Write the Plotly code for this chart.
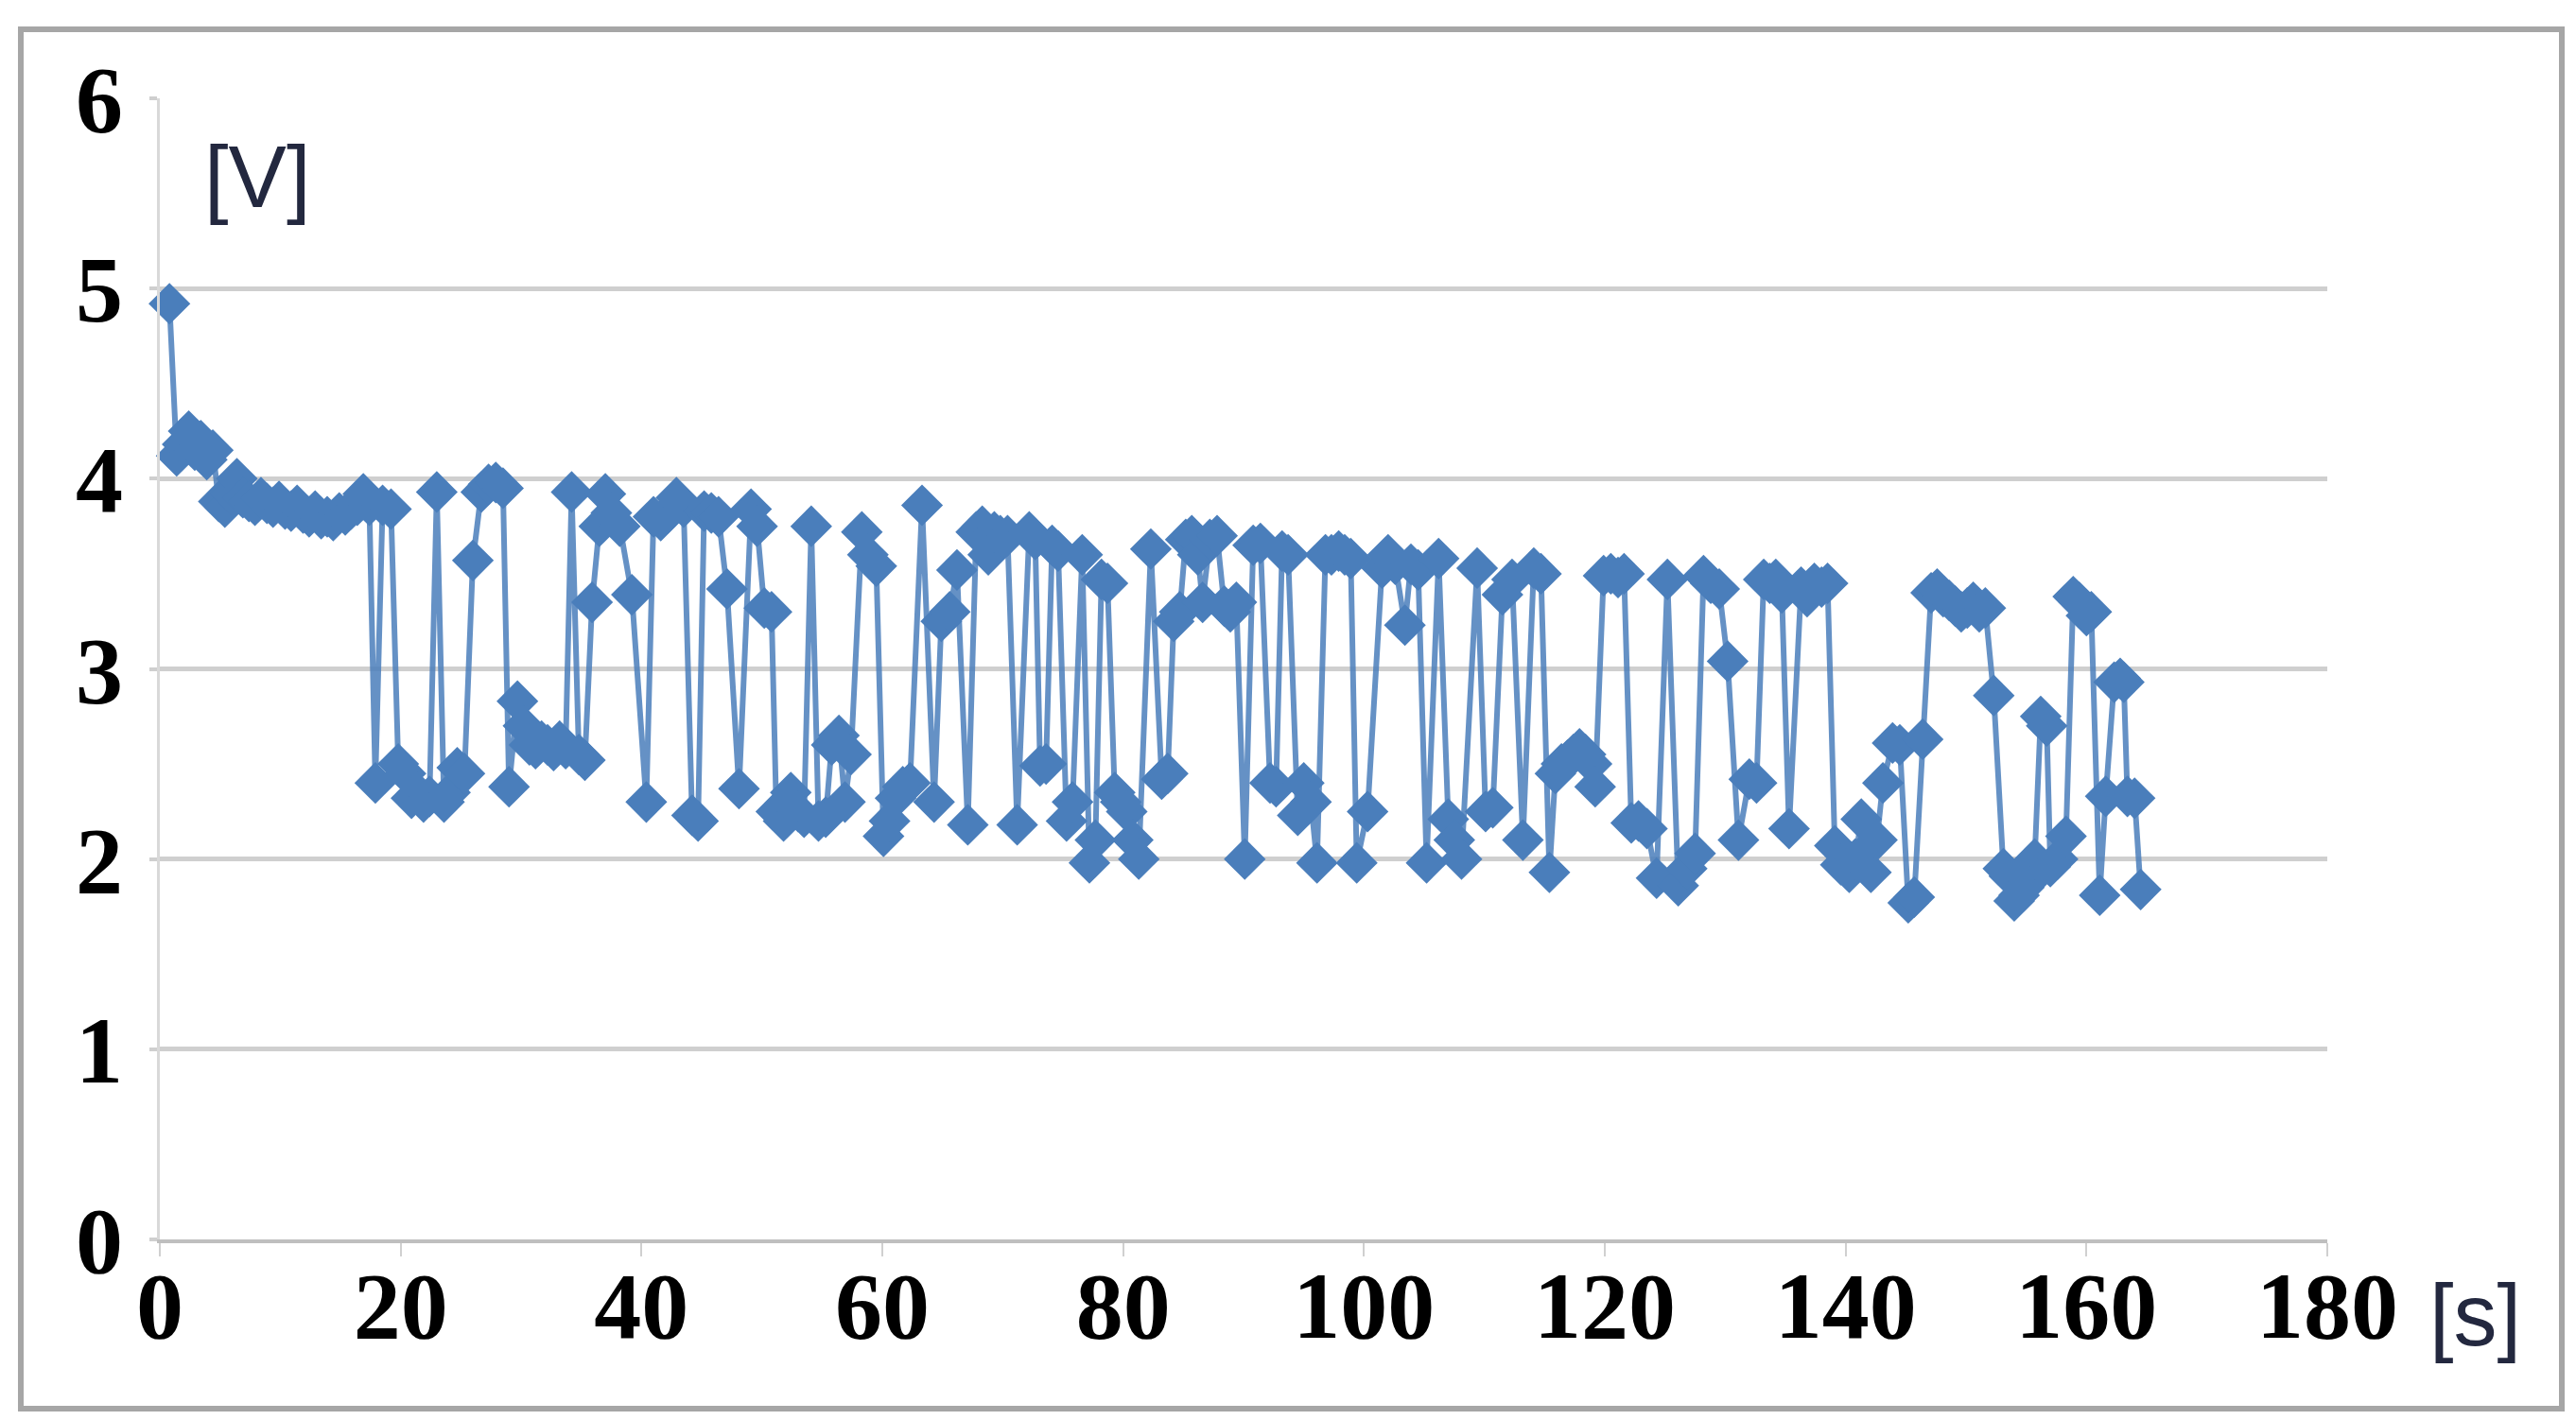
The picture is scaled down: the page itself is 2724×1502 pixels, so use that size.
import plotly.graph_objects as go

# time [s]
time_s = [
    0.8, 1.4, 1.9, 2.4, 2.9, 3.4, 3.9, 4.4, 4.9, 5.4, 5.9, 6.4, 6.9, 7.4, 7.9, 8.4, 8.9, 9.4, 9.9,
    10.4, 10.9, 11.4, 11.9, 12.4, 12.9, 13.4, 13.9, 14.4, 14.9, 15.4, 15.9, 16.4, 16.9, 17.4,
    17.9, 18.5, 19.2, 19.8, 20.4, 20.9, 21.4, 21.9, 22.4, 23.0, 23.6, 24.1, 24.7, 25.3, 26.0,
    26.7, 27.3, 27.9, 28.5, 29.0, 29.7, 30.2, 30.7, 31.2, 31.7, 32.2, 32.7, 33.2, 33.7, 34.2,
    34.8, 35.3, 35.9, 36.5, 37.0, 37.5, 38.2, 39.2, 40.4, 41.0, 41.6, 42.2, 42.9, 43.5, 44.2,
    44.7, 45.2, 45.8, 46.4, 47.1, 48.1, 49.1, 49.6, 50.2, 50.8, 51.2, 51.8, 52.4, 53.0, 53.5,
    54.1, 54.7, 55.3, 55.8, 56.4, 56.9, 57.4, 58.3, 58.8, 59.5, 60.1, 60.6, 61.1, 61.7, 62.3,
    63.3, 64.3, 64.9, 65.6, 66.2, 67.1, 67.8, 68.3, 68.8, 69.3, 69.8, 70.4, 71.2, 72.2, 72.7,
    73.1, 73.6, 74.1, 74.6, 75.3, 75.8, 76.6, 77.2, 77.7, 78.2, 78.7, 79.3, 79.8, 80.3, 80.8,
    81.3, 82.3, 83.2, 83.7, 84.2, 84.7, 85.2, 85.7, 86.2, 86.6, 87.2, 87.8, 88.4, 88.9, 89.4,
    90.1, 90.8, 91.4, 92.2, 92.7, 93.2, 93.7, 94.5, 95.0, 95.6, 96.1, 96.8, 97.3, 97.9, 98.4,
    98.9, 99.4, 100.3, 101.5, 102.0, 102.6, 103.4, 103.9, 104.5, 105.2, 106.2, 107.0, 107.5,
    108.1, 109.4, 110.1, 110.7, 111.5, 112.3, 113.2, 114.1, 114.7, 115.4, 115.9, 116.4, 116.9,
    117.4, 117.9, 118.4, 118.9, 119.2, 119.9, 120.5, 121.1, 121.6, 122.2, 122.8, 123.5, 124.3,
    125.2, 126.1, 126.8, 127.5, 128.2, 128.8, 129.5, 130.2, 131.1, 132.0, 132.6, 133.2, 133.7,
    134.2, 134.7, 135.3, 136.3, 136.8, 137.4, 138.0, 138.5, 139.1, 139.6, 140.3, 140.8, 141.3,
    142.1, 142.6, 143.1, 143.9, 144.5, 145.2, 145.7, 146.4, 147.1, 147.6, 148.1, 148.6, 149.1,
    149.6, 150.1, 150.6, 151.1, 151.6, 152.3, 153.1, 153.6, 154.0, 154.4, 154.8, 155.2, 155.7,
    156.2, 156.7, 157.0, 157.6, 158.3, 158.9, 159.4, 160.0, 160.4, 161.1, 161.6, 162.3, 162.8,
    163.1, 163.4, 164.0, 164.5,
]

# voltage [V]
voltage_v = [
    4.92, 4.12, 4.18, 4.25, 4.15, 4.20, 4.10, 4.15, 3.88, 3.85, 3.92, 4.00, 3.90, 3.88, 3.86, 3.90, 3.87, 3.85, 3.88,
    3.84, 3.83, 3.86, 3.82, 3.80, 3.83, 3.79, 3.80, 3.78, 3.82, 3.81, 3.84, 3.86, 3.92, 3.86,
    2.40, 3.86, 3.84, 2.50, 2.45, 2.32, 2.35, 2.30, 2.33, 3.93, 2.30, 2.35, 2.48, 2.45, 3.57,
    3.93, 3.97, 3.98, 3.95, 2.38, 2.83, 2.70, 2.60, 2.58, 2.62, 2.60, 2.57, 2.62, 2.58, 3.93,
    2.55, 2.52, 3.35, 3.75, 3.92, 3.82, 3.75, 3.39, 2.30, 3.80, 3.78, 3.82, 3.90, 3.85, 2.23,
    2.20, 3.83, 3.82, 3.80, 3.42, 2.37, 3.84, 3.75, 3.32, 3.30, 2.25, 2.20, 2.35, 2.25, 2.22,
    3.75, 2.20, 2.22, 2.60, 2.65, 2.30, 2.55, 3.72, 3.60, 3.54, 2.12, 2.20, 2.32, 2.38, 2.40,
    3.86, 2.30, 3.25, 3.30, 3.52, 2.18, 3.72, 3.75, 3.60, 3.72, 3.70, 3.70, 2.18, 3.72, 3.68,
    2.49, 2.50, 3.65, 3.62, 2.20, 2.30, 3.60, 1.98, 2.10, 3.47, 3.45, 2.35, 2.30, 2.25, 2.10,
    2.00, 3.63, 2.42, 2.45, 3.25, 3.30, 3.68, 3.70, 3.60, 3.35, 3.68, 3.70, 3.33, 3.30, 3.35,
    2.00, 3.65, 3.66, 2.40, 2.38, 3.62, 3.60, 2.23, 2.40, 2.30, 1.98, 3.60, 3.60, 3.62, 3.60,
    3.58, 1.98, 2.25, 3.53, 3.60, 3.55, 3.23, 3.55, 3.52, 1.98, 3.58, 2.21, 2.10,
    2.00, 3.53, 2.25, 2.27, 3.39, 3.47, 2.10, 3.53, 3.50, 1.93, 2.45, 2.50, 2.52,
    2.55, 2.58, 2.55, 2.50, 2.38, 3.49, 3.50, 3.48, 3.50, 2.19, 2.20, 2.16, 1.90,
    3.47, 1.86, 1.95, 2.03, 3.49, 3.45, 3.42, 3.04, 2.10, 2.42, 2.40, 3.47, 3.45,
    3.47, 3.40, 2.16, 3.43, 3.38, 3.45, 3.43, 3.45, 2.07, 1.97, 1.93, 2.00, 2.21,
    1.93, 2.10, 2.40, 2.61, 2.60, 1.77, 1.80, 2.63, 3.40, 3.42, 3.38, 3.36, 3.33,
    3.30, 3.32, 3.35, 3.30, 3.32, 2.86, 1.95, 1.91, 1.78, 1.81, 1.85, 1.88, 2.00,
    2.75, 2.70, 1.96, 2.00, 2.12, 3.38, 3.35, 3.28, 3.30, 1.81, 2.33, 2.93, 2.95,
    2.93, 2.33, 2.32, 1.84,
]

x_ticks = [0, 20, 40, 60, 80, 100, 120, 140, 160, 180]
y_ticks = [0, 1, 2, 3, 4, 5, 6]

W, H = 2724, 1502
ML, MR, MT, MB = 161, 271, 96, 199
PW, PH = W - ML - MR, H - MT - MB

blue = "#4A7EBB"

fig = go.Figure()
fig.add_trace(go.Scatter(
    x=time_s, y=voltage_v, mode="lines+markers",
    line=dict(color="rgba(74,126,187,0.85)", width=6),
    marker=dict(symbol="diamond", size=34, color=blue, line=dict(width=0)),
    showlegend=False, cliponaxis=False,
))

tick_font = dict(family="Liberation Serif, Times New Roman, serif", size=100, color="black", weight="bold")

fig.update_layout(
    width=W, height=H,
    margin=dict(l=ML, r=MR, t=MT, b=MB, autoexpand=False),
    paper_bgcolor="white", plot_bgcolor="white",
    xaxis=dict(
        range=[0, 180], tickvals=x_ticks, ticktext=[str(v) for v in x_ticks],
        showgrid=False, zeroline=False,
        showline=True, linecolor="#bfbfbf", linewidth=4,
        ticks="outside", ticklen=14, tickwidth=2, tickcolor="#d0d0d0",
        tickfont=tick_font, ticklabelstandoff=-34,
    ),
    yaxis=dict(
        range=[0, 6], tickvals=y_ticks, ticktext=[str(v) for v in y_ticks],
        showgrid=True, gridcolor="#cfcfcf", gridwidth=5,
        zeroline=False,
        showline=True, linecolor="#d9d9d9", linewidth=3,
        ticks="outside", ticklen=8, tickwidth=4, tickcolor="#cfcfcf",
        tickfont=tick_font, ticklabelstandoff=8,
    ),
)

# axis unit labels
fig.add_annotation(x=(264 - ML) / PW, y=(MT + PH - 179) / PH, xref="paper", yref="paper",
                   xanchor="center", yanchor="middle",
                   text="[V]", showarrow=False,
                   font=dict(family="Liberation Sans, Arial, sans-serif", size=92, color="#23283f"))
fig.add_annotation(x=(2609 - ML) / PW, y=(MT + PH - 1383) / PH, xref="paper", yref="paper",
                   xanchor="center", yanchor="middle",
                   text="[s]", showarrow=False,
                   font=dict(family="Liberation Sans, Arial, sans-serif", size=92, color="#23283f"))

# outer frame of the chart
fig.add_shape(type="rect", xref="paper", yref="paper",
              x0=(14 - ML) / PW, x1=(2701 - ML) / PW,
              y0=(MT + PH - 1482) / PH, y1=(MT + PH - 23) / PH,
              line=dict(color="#a6a6a6", width=6), layer="below")

fig.write_html("out.html")
